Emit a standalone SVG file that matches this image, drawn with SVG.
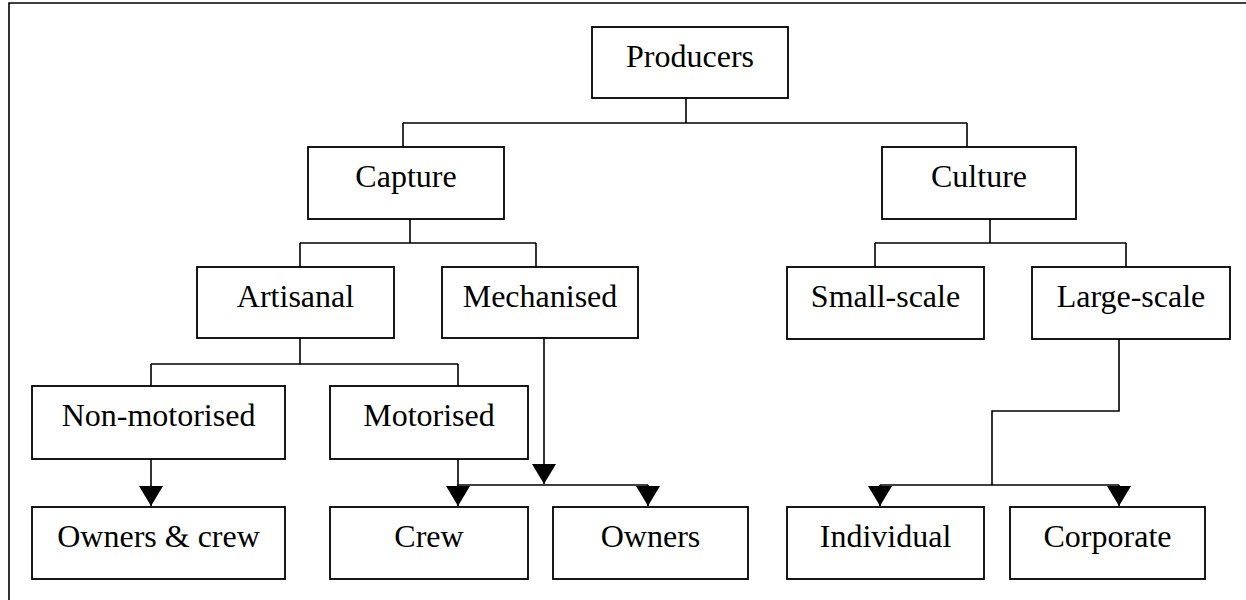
<svg xmlns="http://www.w3.org/2000/svg" width="1246" height="600" viewBox="0 0 1246 600">
<defs>
<marker id="arr" markerUnits="userSpaceOnUse" markerWidth="20" markerHeight="24" viewBox="0 0 20 24" refX="20" refY="12" orient="auto">
<path d="M0,0 L20,12 L0,24 Z" fill="#000"/>
</marker>
<style>
.box{fill:#fff;stroke:#000;stroke-width:1.8}
.lbl{font-family:"Liberation Serif","Times New Roman",serif;font-size:32px;fill:#000;text-anchor:middle}
.ln{fill:none;stroke:#000;stroke-width:1.6}
</style>
</defs>
<rect width="1246" height="600" fill="#fff"/>
<path class="ln" d="M1250,3 H9 V604" stroke-width="2"/>
<g id="connectors">
<path class="ln" d="M686,98 V123 M403,123 H967 M403,123 V147 M967,123 V147"/>
<path class="ln" d="M410,219 V243 M300,243 H536 M300,243 V267 M536,243 V267"/>
<path class="ln" d="M990,219 V243 M875,243 H1126 M875,243 V267 M1126,243 V267"/>
<path class="ln" d="M300,338 V364 M151,364 H458 M151,364 V386 M458,364 V386"/>
<path class="ln" d="M151,459 V506" marker-end="url(#arr)"/>
<path class="ln" d="M458,459 V485 H648"/>
<path class="ln" d="M458,485 V506" marker-end="url(#arr)"/>
<path class="ln" d="M648,485 V506" marker-end="url(#arr)"/>
<path class="ln" d="M544,338 V484" marker-end="url(#arr)"/>
<path class="ln" d="M1119,339 V411 H992 V485 M880,485 H1119"/>
<path class="ln" d="M880,485 V506" marker-end="url(#arr)"/>
<path class="ln" d="M1119,485 V506" marker-end="url(#arr)"/>
</g>
<g id="producers"><rect class="box" x="592" y="27" width="196" height="71"/><text class="lbl" x="690" y="67">Producers</text></g>
<g id="capture"><rect class="box" x="308" y="147" width="196" height="72"/><text class="lbl" x="406" y="187">Capture</text></g>
<g id="culture"><rect class="box" x="882" y="147" width="194" height="72"/><text class="lbl" x="979" y="187">Culture</text></g>
<g id="artisanal"><rect class="box" x="197" y="267" width="197" height="71"/><text class="lbl" x="295.5" y="307">Artisanal</text></g>
<g id="mechanised"><rect class="box" x="442" y="267" width="196" height="71"/><text class="lbl" x="540" y="307">Mechanised</text></g>
<g id="small-scale"><rect class="box" x="787" y="267" width="197" height="72"/><text class="lbl" x="885.5" y="307">Small-scale</text></g>
<g id="large-scale"><rect class="box" x="1032" y="267" width="198" height="72"/><text class="lbl" x="1131" y="307">Large-scale</text></g>
<g id="non-motorised"><rect class="box" x="32" y="386" width="253" height="73"/><text class="lbl" x="158.5" y="426">Non-motorised</text></g>
<g id="motorised"><rect class="box" x="330" y="386" width="198" height="73"/><text class="lbl" x="429" y="426">Motorised</text></g>
<g id="owners-crew"><rect class="box" x="32" y="507" width="253" height="72"/><text class="lbl" x="158.5" y="547">Owners &amp; crew</text></g>
<g id="crew"><rect class="box" x="330" y="507" width="198" height="72"/><text class="lbl" x="429" y="547">Crew</text></g>
<g id="owners"><rect class="box" x="553" y="507" width="195" height="72"/><text class="lbl" x="650.5" y="547">Owners</text></g>
<g id="individual"><rect class="box" x="787" y="507" width="197" height="72"/><text class="lbl" x="885.5" y="547">Individual</text></g>
<g id="corporate"><rect class="box" x="1010" y="507" width="195" height="72"/><text class="lbl" x="1107.5" y="547">Corporate</text></g>
</svg>
